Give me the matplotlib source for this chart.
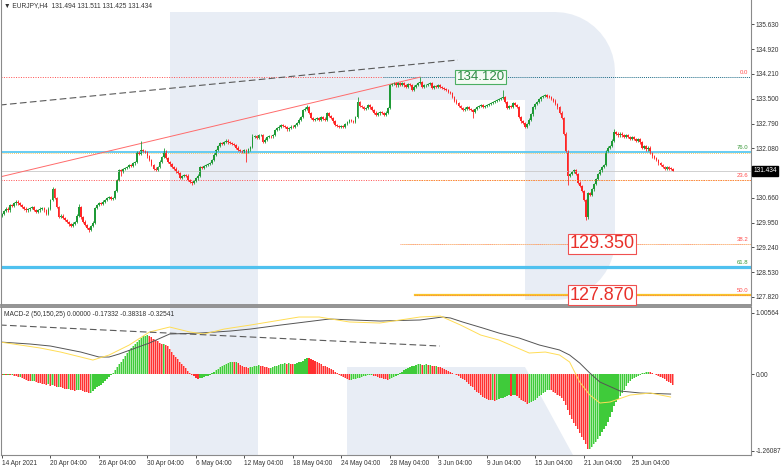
import numpy as np
import matplotlib.pyplot as plt
from matplotlib.patches import Polygon

W, H = 782, 468

# H4 closes, EURJPY, 14 Apr - 28 Jun 2021
closes = [
    130.20, 130.28, 130.35, 130.30, 130.46, 130.42, 130.50, 130.55, 130.50, 130.46,
    130.40, 130.35, 130.30, 130.33, 130.37, 130.40, 130.32, 130.25, 130.30, 130.35,
    130.37, 130.30, 130.20, 130.35, 130.60, 130.90, 130.65, 130.40, 130.11, 130.15,
    130.08, 130.02, 129.97, 129.90, 129.85, 129.92, 129.97, 130.15, 130.40, 130.10,
    129.98, 129.88, 129.80, 129.74, 129.85, 129.95, 130.37, 130.45, 130.51, 130.48,
    130.55, 130.60, 130.65, 130.69, 130.62, 130.66, 130.85, 131.17, 131.46, 131.40,
    131.48, 131.52, 131.55, 131.60, 131.58, 131.65, 131.69, 131.97, 131.92, 132.03,
    132.00, 131.97, 131.85, 131.75, 131.60, 131.50, 131.46, 131.55, 131.70, 131.83,
    132.00, 131.80, 131.69, 131.62, 131.55, 131.50, 131.42, 131.37, 131.23, 131.28,
    131.32, 131.30, 131.17, 131.12, 131.09, 131.15, 131.22, 131.30, 131.55, 131.52,
    131.58, 131.60, 131.63, 131.66, 131.75, 131.90, 132.03, 132.15, 132.23, 132.20,
    132.26, 132.30, 132.25, 132.23, 132.20, 132.17, 132.10, 132.03, 132.00, 131.97,
    132.02, 131.97, 132.05, 132.12, 132.40, 132.42, 132.38, 132.46, 132.46, 132.26,
    132.33, 132.40, 132.44, 132.42, 132.46, 132.60, 132.65, 132.70, 132.75, 132.72,
    132.69, 132.62, 132.66, 132.70, 132.69, 132.75, 132.81, 132.90, 132.98, 133.18,
    133.22, 133.26, 133.09, 132.95, 132.89, 132.92, 132.95, 132.90, 132.98, 132.93,
    132.89, 133.09, 133.00, 132.95, 132.85, 132.75, 132.72, 132.69, 132.72, 132.69,
    132.78, 132.83, 132.89, 132.86, 132.83, 132.98, 133.40, 133.30, 133.26, 133.20,
    133.23, 133.32, 133.25, 133.18, 133.10, 133.04, 133.08, 133.12, 133.09, 133.04,
    133.10, 133.24, 133.90, 133.92, 133.95, 133.88, 133.95, 133.90, 133.95, 133.88,
    133.84, 133.92, 133.90, 133.75, 133.85, 133.90, 133.95, 133.98, 133.84, 133.88,
    133.90, 133.93, 133.95, 133.81, 133.86, 133.84, 133.88, 133.84, 133.81, 133.78,
    133.75, 133.70, 133.67, 133.55, 133.45, 133.38, 133.30, 133.24, 133.18, 133.22,
    133.26, 133.20, 133.18, 133.12, 133.20, 133.26, 133.30, 133.32, 133.26, 133.30,
    133.32, 133.35, 133.38, 133.41, 133.44, 133.46, 133.50, 133.52, 133.55, 133.40,
    133.24, 133.28, 133.26, 133.38, 133.32, 133.26, 132.98, 132.85, 132.81, 132.70,
    132.78, 132.90, 133.05, 133.25, 133.35, 133.40, 133.48, 133.55, 133.58, 133.60,
    133.56, 133.55, 133.50, 133.45, 133.35, 133.25, 133.10, 132.95, 132.50, 132.00,
    131.30, 131.35, 131.40, 131.45, 131.35, 131.10, 131.00, 130.85, 130.60, 130.10,
    130.80, 130.75, 130.90, 131.05, 131.20, 131.35, 131.45, 131.55, 131.60, 132.00,
    132.10, 132.15, 132.30, 132.55, 132.50, 132.45, 132.50, 132.45, 132.40, 132.45,
    132.40, 132.35, 132.40, 132.35, 132.30, 132.35, 132.25, 132.10, 132.15, 132.05,
    132.10, 131.95, 131.85, 131.80, 131.75, 131.65, 131.60, 131.55, 131.50, 131.55,
    131.50, 131.494, 131.434,
]
first_open = 130.15
# notable wicks
spike_high = {25: 130.96, 38: 130.47, 69: 132.28, 80: 132.10, 124: 132.48, 151: 133.32,
              176: 133.55, 207: 134.12, 248: 133.75, 303: 132.62, 332: 131.511}
spike_low = {43: 129.68, 59: 131.30, 94: 131.02, 121: 131.68, 233: 132.95, 280: 131.03,
             289: 130.03, 332: 131.425}

# MACD-2 histogram, one value per bar
macd_hist = [
    -0.01, -0.01, -0.02, -0.01, -0.02, -0.02, -0.03, -0.04, -0.05, -0.05,
    -0.07, -0.09, -0.10, -0.11, -0.12, -0.115, -0.11, -0.13, -0.14, -0.15,
    -0.16, -0.17, -0.18, -0.17, -0.19, -0.18, -0.20, -0.21, -0.21, -0.22,
    -0.23, -0.24, -0.25, -0.25, -0.26, -0.27, -0.28, -0.27, -0.26, -0.27,
    -0.28, -0.29, -0.30, -0.31, -0.31, -0.28, -0.25, -0.22, -0.20, -0.18,
    -0.15, -0.12, -0.09, -0.05, -0.02, 0.02, 0.06, 0.11, 0.16, 0.20,
    0.25, 0.30, 0.35, 0.39, 0.43, 0.46, 0.49, 0.53, 0.56, 0.59,
    0.62, 0.63, 0.64, 0.63, 0.61, 0.58, 0.56, 0.54, 0.51, 0.49,
    0.50, 0.48, 0.46, 0.42, 0.37, 0.32, 0.28, 0.24, 0.20, 0.16,
    0.13, 0.10, 0.05, 0.01, -0.02, -0.04, -0.06, -0.08, -0.07, -0.06,
    -0.05, -0.04, -0.03, -0.01, 0.01, 0.04, 0.07, 0.09, 0.11, 0.13,
    0.15, 0.17, 0.18, 0.19, 0.20, 0.19, 0.20, 0.18, 0.15, 0.13,
    0.12, 0.11, 0.10, 0.11, 0.12, 0.13, 0.14, 0.15, 0.14, 0.13,
    0.12, 0.11, 0.10, 0.105, 0.12, 0.13, 0.14, 0.15, 0.16, 0.17,
    0.18, 0.17, 0.18, 0.17, 0.16, 0.17, 0.18, 0.19, 0.20, 0.22,
    0.24, 0.27, 0.26, 0.25, 0.23, 0.22, 0.20, 0.18, 0.16, 0.14,
    0.13, 0.12, 0.10, 0.08, 0.06, 0.03, 0.01, -0.01, -0.03, -0.05,
    -0.07, -0.08, -0.10, -0.095, -0.09, -0.08, -0.07, -0.06, -0.05, -0.04,
    -0.03, -0.02, -0.02, -0.02, -0.03, -0.04, -0.05, -0.06, -0.07, -0.08,
    -0.09, -0.10, -0.09, -0.07, -0.05, -0.03, -0.01, 0.02, 0.04, 0.06,
    0.08, 0.10, 0.12, 0.13, 0.14, 0.15, 0.16, 0.16, 0.15, 0.15,
    0.16, 0.15, 0.15, 0.14, 0.13, 0.13, 0.12, 0.11, 0.10, 0.08,
    0.07, 0.05, 0.03, 0.02, 0.00, -0.02, -0.04, -0.06, -0.08, -0.10,
    -0.13, -0.16, -0.19, -0.22, -0.26, -0.29, -0.32, -0.35, -0.38, -0.40,
    -0.41, -0.42, -0.43, -0.43, -0.44, -0.42, -0.41, -0.40, -0.39, -0.38,
    -0.36, -0.35, -0.36, -0.35, -0.35, -0.36, -0.40, -0.42, -0.44, -0.46,
    -0.49, -0.48, -0.46, -0.44, -0.42, -0.40, -0.36, -0.34, -0.31, -0.29,
    -0.27, -0.26, -0.27, -0.29, -0.31, -0.34, -0.37, -0.40, -0.45, -0.51,
    -0.60, -0.68, -0.74, -0.80, -0.85, -0.91, -0.97, -1.03, -1.09, -1.15,
    -1.24, -1.23, -1.20, -1.16, -1.12, -1.07, -1.02, -0.96, -0.91, -0.86,
    -0.79, -0.71, -0.62, -0.52, -0.46, -0.41, -0.37, -0.31, -0.26, -0.20,
    -0.15, -0.12, -0.09, -0.07, -0.05, -0.03, -0.01, 0.01, 0.02, 0.03,
    0.035, 0.03, 0.02, 0.00, -0.02, -0.04, -0.05, -0.07, -0.09, -0.11,
    -0.13, -0.15, -0.18,
]

# MACD main (dark) and signal (yellow) lines, sampled at bar numbers
main_idx = [-1, 14, 24, 39, 48, 53, 58, 73, 83, 98, 113, 123, 138, 162, 187, 207, 218,
            222, 228, 238, 246, 256, 266, 276, 281, 286, 291, 296, 306, 316, 331]
main_val = [0.527, 0.494, 0.461, 0.362, 0.28, 0.28, 0.33, 0.511, 0.659, 0.675, 0.708,
            0.741, 0.807, 0.906, 0.873, 0.89, 0.939, 0.923, 0.857, 0.758, 0.675, 0.593,
            0.478, 0.396, 0.313, 0.181, 0.016, -0.132, -0.28, -0.313, -0.33]
sig_idx = [-1, 19, 29, 39, 45, 53, 63, 73, 83, 93, 100, 110, 123, 147, 157, 172, 187,
           207, 217, 227, 237, 246, 261, 269, 276, 281, 286, 291, 296, 301, 311, 321, 331]
sig_val = [0.527, 0.428, 0.362, 0.28, 0.23, 0.313, 0.478, 0.692, 0.774, 0.692, 0.659,
           0.741, 0.807, 0.939, 0.939, 0.857, 0.84, 0.939, 0.955, 0.807, 0.642, 0.56,
           0.346, 0.362, 0.313, 0.198, -0.132, -0.346, -0.478, -0.461, -0.346, -0.313, -0.379]

date_labels = ["14 Apr 2021", "20 Apr 04:00", "26 Apr 04:00", "30 Apr 04:00", "6 May 04:00",
               "12 May 04:00", "18 May 04:00", "24 May 04:00", "28 May 04:00", "3 Jun 04:00",
               "9 Jun 04:00", "15 Jun 04:00", "21 Jun 04:00", "25 Jun 04:00"]
price_ticks = [135.630, 134.920, 134.210, 133.500, 132.790, 132.080, 130.660, 129.950,
               129.240, 128.530, 127.820]

assert len(closes) == 333 and len(macd_hist) == 333

plt.rcParams['font.family'] = ['Liberation Sans', 'DejaVu Sans']

n = len(closes)
idx = np.arange(n)
c = np.array(closes)
o = np.concatenate([[first_open], c[:-1]])
o[-1] = 131.494
hi = np.maximum(o, c) + 0.035
lo = np.minimum(o, c) - 0.035
for k, v in spike_high.items():
    hi[k] = v
for k, v in spike_low.items():
    lo[k] = v


def fx(x):
    return x / W


def fy(y):
    return 1 - y / H


fig = plt.figure(figsize=(W / 100, H / 100), dpi=100)
fig.patch.set_facecolor('white')

# watermark
wm = '#e8edf5'
stem = [(170, 12), (258, 12), (258, 455), (170, 455)]
th = np.linspace(np.pi / 2, 0, 12)
th2 = np.linspace(0, -np.pi / 2, 12)
bowl = ([(258, 12), (555, 12)] + [(555 + 60 * np.cos(t), 72 - 60 * np.sin(t)) for t in th]
        + [(555 + 60 * np.cos(t), 240 - 60 * np.sin(t)) for t in th2]
        + [(525, 300), (525, 100), (258, 100)])
leg = [(347, 367), (525, 367), (573, 455), (347, 455)]
for shape in (stem, bowl, leg):
    fig.patches.append(Polygon([(fx(x), fy(y)) for x, y in shape], closed=True,
                               transform=fig.transFigure, facecolor=wm, edgecolor='none',
                               zorder=-5))

ax = fig.add_axes([fx(1), fy(305), fx(751) - fx(1), fy(0) - fy(305)])
am = fig.add_axes([fx(1), fy(455), fx(751) - fx(1), fy(307) - fy(455)])
for a in (ax, am):
    a.set_facecolor('none')
    a.set_xlim(-0.5, 370.8)
    for s in a.spines.values():
        s.set_color('#8a8a8a')
        s.set_linewidth(0.8)
ax.spines['top'].set_visible(False)
ax.spines['bottom'].set_linewidth(1.3)
am.spines['top'].set_linewidth(1.3)

ax.set_ylim(127.59, 136.33)
am.set_ylim(-1.334, 1.104)


def hline(a, y, x0, x1, **kw):
    a.axhline(y, xmin=(x0 - 1) / 750, xmax=(x1 - 1) / 750, **kw)


# horizontal levels
hline(ax, 134.12, 1, 383, color='#ff4d4d', lw=0.7, ls=(0, (1, 1.5)))
hline(ax, 134.12, 383, 751, color='#1d6b86', lw=0.7, ls=(0, (1, 1)))
hline(ax, 131.97, 1, 751, color='#5bc8f2', lw=1.3)
hline(ax, 131.94, 1, 751, color='#f5b82e', lw=0.6, ls=(0, (1, 1.5)))
hline(ax, 131.434, 1, 751, color='#c9c9c9', lw=0.6)
hline(ax, 131.17, 1, 751, color='#ff4d4d', lw=0.7, ls=(0, (1, 1.5)))
hline(ax, 131.17, 400, 751, color='#f5a623', lw=0.7, ls=(1, (1, 1.5)))
hline(ax, 129.35, 400, 751, color='#ff6f6f', lw=0.6, ls=(0, (1, 1.5)))
hline(ax, 129.35, 400, 751, color='#f5c04a', lw=0.6, ls=(1, (1, 1.5)))
hline(ax, 128.68, 1, 751, color='#4fc1ef', lw=2.3)
hline(ax, 127.87, 415, 751, color='#f7c52a', lw=1.6)
hline(ax, 127.87, 415, 751, color='#ff5a5a', lw=0.5, ls=(0, (1, 1.5)))

# trend lines
ax.plot([-1, 207], [131.26, 134.12], color='#ff6b6b', lw=0.7)
ax.plot([-1, 225.7], [133.32, 134.61], color='#5a5a5a', lw=0.8, ls=(0, (6, 3)))

# candles
up = c >= o
col = np.where(up, '#1f9a36', '#ff2626')
ax.vlines(idx, lo, hi, colors=col, lw=0.6)
ax.bar(idx, np.maximum(np.abs(c - o), 0.015), bottom=np.minimum(o, c), width=0.9,
       color=col, linewidth=0, antialiased=False)

# fibo labels
for y, txt, cl in [(134.12, '0.0', '#ff4d4d'), (131.97, '76.0', '#3a9a3a'),
                   (131.17, '23.6', '#ff4d4d'), (129.35, '38.2', '#ff4d4d'),
                   (128.68, '61.8', '#3a9a3a'), (127.87, '50.0', '#ff4d4d')]:
    ax.text(369.5, y + 0.05, txt, fontsize=4.3, color=cl, ha='right', va='bottom')

# price boxes
ax.text(237, 134.12, '134.120', fontsize=9.5, color='#2e8b45', ha='center', va='center',
        bbox=dict(boxstyle='square,pad=0.1', fc='#f3faf4', ec='#4caf62', lw=0.8))
ax.text(297, 129.35, '129.350', fontsize=13, color='#e8302a', ha='center', va='center',
        bbox=dict(boxstyle='square,pad=0.08', fc='white', ec='#f05050', lw=0.8))
ax.text(297, 127.87, '127.870', fontsize=13, color='#e8302a', ha='center', va='center',
        bbox=dict(boxstyle='square,pad=0.08', fc='white', ec='#f05050', lw=0.8))

# right axis
ax.yaxis.tick_right()
ax.set_yticks(price_ticks)
ax.set_yticklabels(['%.3f' % v for v in price_ticks])
ax.tick_params(axis='y', labelsize=4.7, length=2, width=0.6, pad=1.5, colors='#333333')
ax.set_xticks([])
ax.text(1.003, 131.434, '131.434', transform=ax.get_yaxis_transform(), fontsize=4.7,
        color='white', ha='left', va='center',
        bbox=dict(boxstyle='square,pad=0.2', fc='black', ec='black'))

# MACD panel: rising bars green, falling bars red
falling = [i > 0 and macd_hist[i] < macd_hist[i - 1] for i in range(n)]
falling[0] = True
hcol = ['#ff3030' if f else '#3fcb3a' for f in falling]
tint = ['#ff9c9c' if f else '#a6e8a2' for f in falling]
am.bar(idx, macd_hist, width=1.0, color=tint, edgecolor='none', linewidth=0)
am.bar(idx, macd_hist, width=0.6, color=hcol, edgecolor='none', linewidth=0)
am.plot(main_idx, main_val, color='#555555', lw=0.7)
am.plot(sig_idx, sig_val, color='#ffdd55', lw=0.7)
am.plot([-1, 216.8], [0.807, 0.461], color='#5a5a5a', lw=0.8, ls=(0, (6, 3)))

am.yaxis.tick_right()
am.set_yticks([1.00564, 0.0, -1.26087])
am.set_yticklabels(['1.00564', '0.00', '-1.26087'])
am.tick_params(axis='y', labelsize=4.7, length=2, width=0.6, pad=1.5, colors='#333333')
am.set_xticks(np.arange(len(date_labels)) * 24)
am.set_xticklabels(date_labels, ha='left')
am.tick_params(axis='x', labelsize=4.7, length=2.5, width=0.6, pad=1, colors='#333333')

fig.text(fx(4), fy(6), '\u25bc EURJPY,H4  131.494 131.511 131.425 131.434', fontsize=4.8,
         color='#333333', va='center')
fig.text(fx(4), fy(314), 'MACD-2 (50,150,25) 0.00000 -0.17332 -0.38318 -0.32541',
         fontsize=4.8, color='#333333', va='center')

fig.savefig('out.png', dpi=100)
